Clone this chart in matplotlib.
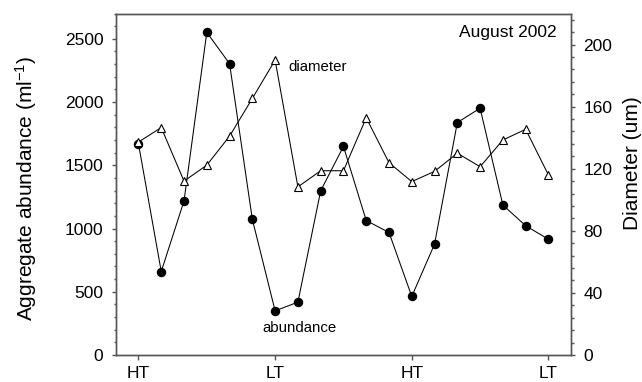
import matplotlib
matplotlib.use("Agg")
import matplotlib.pyplot as plt
from matplotlib.ticker import MultipleLocator, FixedLocator

plt.rcParams['font.family'] = ['Liberation Sans', 'DejaVu Sans']
plt.rcParams['mathtext.fontset'] = 'custom'
plt.rcParams['mathtext.rm'] = 'Liberation Sans'
plt.rcParams['mathtext.it'] = 'Liberation Sans'

# ---- data ----
sample_index = list(range(19))
abundance = [1670, 660, 1218, 2551, 2303, 1072, 349, 418, 1298, 1649,
             1063, 969, 463, 877, 1838, 1951, 1186, 1022, 915]
diameter = [137.2, 146.5, 112.0, 122.3, 141.0, 165.3, 190.0, 108.3, 118.7, 118.7,
            152.8, 123.9, 111.7, 118.3, 130.0, 121.3, 138.5, 145.4, 116.0]
tide_ticks = [0, 6, 12, 18]
tide_labels = ['HT', 'LT', 'HT', 'LT']
left_ticks = [0, 500, 1000, 1500, 2000, 2500]
right_ticks = [0, 40, 80, 120, 160, 200]

W, H = 642, 382
fig = plt.figure(figsize=(W / 100, H / 100), dpi=100)
ax = fig.add_axes([115.7 / W, 1 - 355 / H, 455.5 / W, 341.5 / H])
ax2 = ax.twinx()

spine_col = '#555555'

ax.plot(sample_index, abundance, color='black', lw=0.75, marker='o',
        markersize=5.8, markerfacecolor='black', markeredgecolor='black', zorder=2)
ax2.plot(sample_index, diameter, color='black', lw=0.75, marker='^',
         markersize=6.2, markerfacecolor='white', markeredgecolor='black',
         markeredgewidth=0.8, zorder=3)

ax.set_xlim(-1, 19)
ax.set_ylim(0, 2700)
ax2.set_ylim(0, 220)

ax.xaxis.set_major_locator(FixedLocator(tide_ticks))
ax.set_xticklabels(tide_labels)
ax.yaxis.set_major_locator(FixedLocator(left_ticks))
ax.yaxis.set_minor_locator(MultipleLocator(100))
ax2.yaxis.set_major_locator(FixedLocator(right_ticks))
ax2.yaxis.set_minor_locator(MultipleLocator(8))

for a in (ax, ax2):
    for s in a.spines.values():
        s.set_color(spine_col)
        s.set_linewidth(1.0)
    a.tick_params(which='major', direction='out', length=2.9, width=1.0,
                  color=spine_col, labelsize=12.5, labelcolor='black', pad=5)
    a.tick_params(which='minor', direction='out', length=1.8, width=1.0,
                  color=spine_col)
ax.tick_params(axis='x', which='major', length=3.6, pad=4)
ax.tick_params(axis='y', which='major', pad=6)
ax2.tick_params(axis='y', which='major', pad=6)

ax.set_ylabel(r'Aggregate abundance (ml$^{\mathregular{-1}}$)', fontsize=15)
ax.yaxis.set_label_coords(-0.168, 0.489)
ax2.set_ylabel('Diameter (um)', fontsize=15)
ax2.yaxis.set_label_coords(1.113, 0.562)

ax.text(0.378, 0.8425, 'diameter', transform=ax.transAxes, fontsize=10.8,
        ha='left', va='center')
ax.text(0.321, 0.079, 'abundance', transform=ax.transAxes, fontsize=10.8,
        ha='left', va='center')
ax.text(0.969, 0.944, 'August 2002', transform=ax.transAxes, fontsize=12.5,
        ha='right', va='center')

fig.savefig('out.png', dpi=100)
